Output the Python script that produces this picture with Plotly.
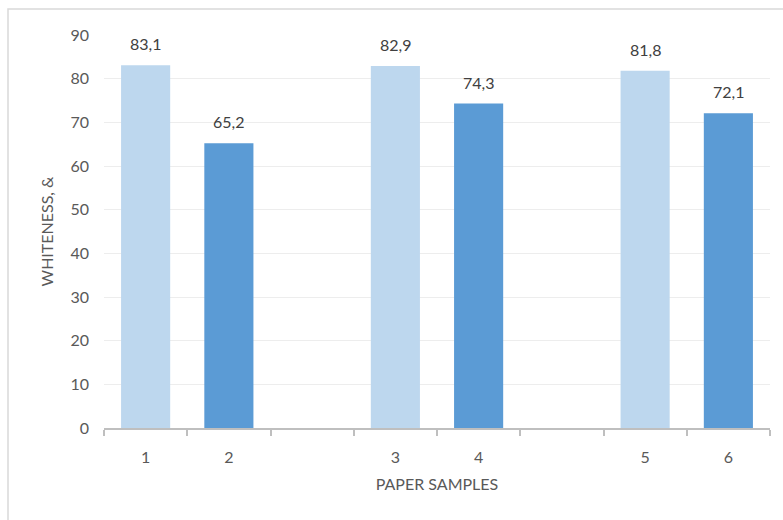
import plotly.graph_objects as go

# Paper whiteness per sample
samples = ["1", "2", "3", "4", "5", "6"]
whiteness = [83.1, 65.2, 82.9, 74.3, 81.8, 72.1]
y_ticks = [0, 10, 20, 30, 40, 50, 60, 70, 80, 90]

LIGHT = "#BDD7EE"
DARK = "#5B9BD5"
FONT = "Lato"
FS = 16

# samples come in pairs, with an empty category slot after each pair
slots = [i + i // 2 for i in range(len(samples))]
colors = [LIGHT if i % 2 == 0 else DARK for i in range(len(samples))]
n_slots = slots[-1] + 1

fig = go.Figure(
    go.Bar(
        x=slots,
        y=whiteness,
        marker=dict(color=colors, line=dict(width=0)),
        width=0.59,
        hoverinfo="skip",
    )
)

# value labels above each bar
for xs, v in zip(slots, whiteness):
    fig.add_annotation(
        x=xs,
        y=v,
        text=f"{v:.1f}".replace(".", ","),
        showarrow=False,
        yanchor="bottom",
        yshift=10,
        font=dict(family=FONT, size=FS, color="#404040"),
    )

L, R, T, B = 104, 13, 35, 92
W, H = 783, 520
pw, ph = W - L - R, H - T - B

fig.update_layout(
    width=W,
    height=H,
    margin=dict(l=L, r=R, t=T, b=B, pad=0),
    paper_bgcolor="white",
    plot_bgcolor="white",
    showlegend=False,
    font=dict(family=FONT, color="#595959", size=FS),
    xaxis=dict(
        range=[-0.5, n_slots - 0.5],
        tickvals=slots,
        ticktext=samples,
        ticks="",
        showgrid=False,
        showline=True,
        linecolor="#BFBFBF",
        linewidth=1.5,
        ticklabelstandoff=14,
        tickfont=dict(size=FS, color="#595959"),
        minor=dict(
            tickvals=[k - 0.5 for k in range(n_slots + 1)],
            ticks="outside",
            ticklen=6,
            tickcolor="#BFBFBF",
            tickwidth=1.5,
            showgrid=False,
        ),
        title=dict(text="PAPER SAMPLES", font=dict(size=FS, color="#595959"), standoff=14),
        zeroline=False,
    ),
    yaxis=dict(
        range=[0, 90],
        tickvals=y_ticks,
        showgrid=True,
        gridcolor="#EDEDED",
        gridwidth=1,
        showline=False,
        zeroline=False,
        ticks="",
        ticklabelstandoff=14,
        tickfont=dict(size=FS, color="#595959"),
        title=dict(text="WHITENESS, &", font=dict(size=FS, color="#595959"), standoff=12),
    ),
    shapes=[
        dict(
            type="rect",
            xref="paper",
            yref="paper",
            x0=(8 - L) / pw,
            x1=(W + 10 - L) / pw,
            y0=-(H + 10 - T - ph) / ph,
            y1=1 + (T - 9) / ph,
            line=dict(color="#D9D9D9", width=1.5),
            fillcolor="rgba(0,0,0,0)",
            layer="below",
        )
    ],
)

fig.write_html("out.html")
